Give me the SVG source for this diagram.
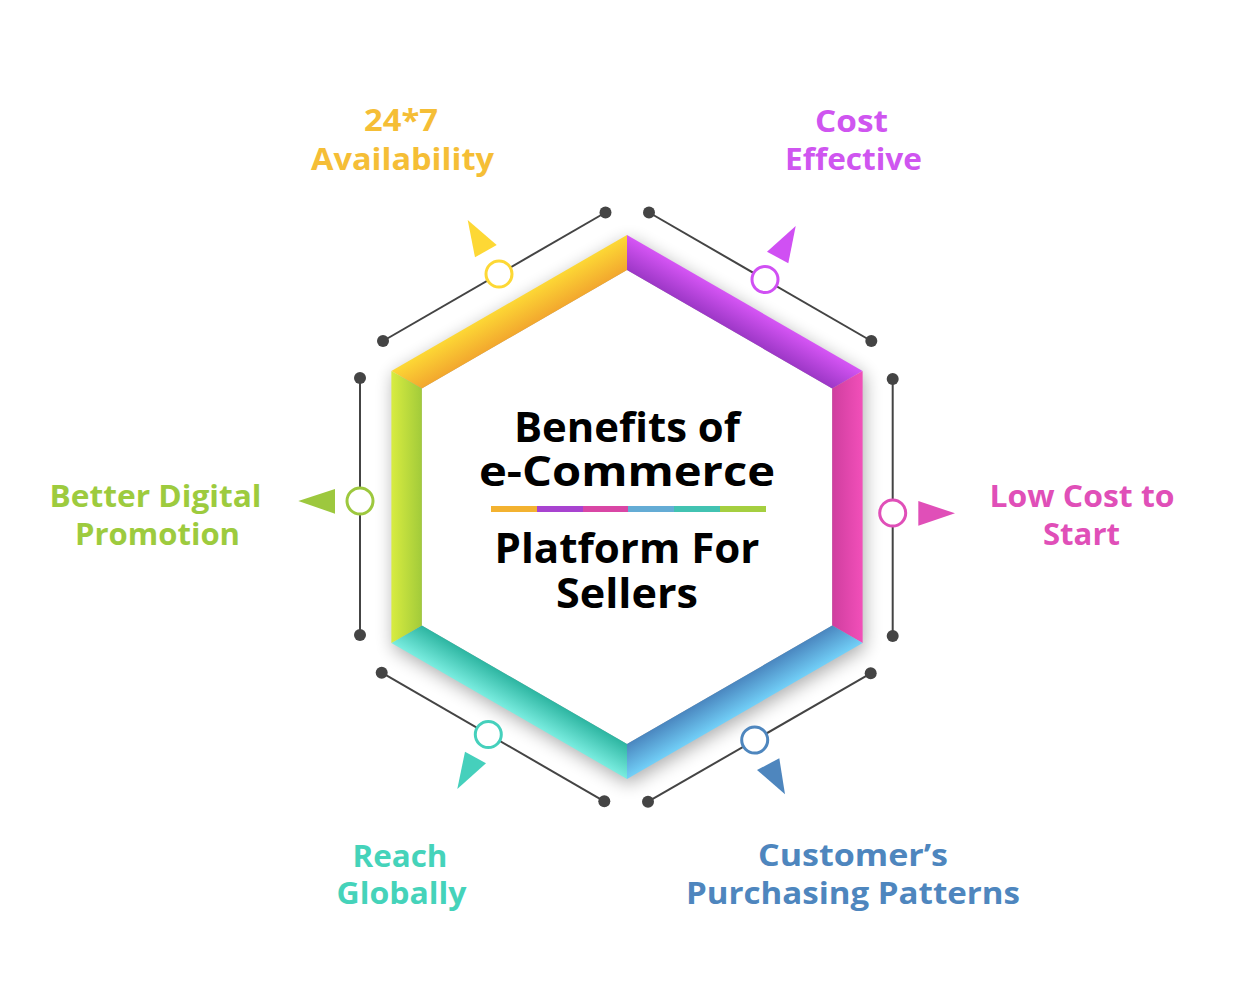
<svg xmlns="http://www.w3.org/2000/svg" width="1254" height="991" viewBox="0 0 1254 991">
<style>
.lbl{font-family:"Open Sans","Liberation Sans",sans-serif;font-weight:700;font-size:31px;text-anchor:middle}
.ttl{font-family:"Open Sans","Liberation Sans",sans-serif;font-weight:700;font-size:41px;text-anchor:middle;fill:#000}
.ln{stroke:#444;stroke-width:2;fill:none}
.dot{fill:#444}
.ring{fill:#fff;stroke-width:3}
</style>
<defs>
<filter id="sh" x="-20%" y="-20%" width="140%" height="140%">
<feGaussianBlur stdDeviation="9"/>
</filter>
<linearGradient id="gTL" gradientUnits="userSpaceOnUse" x1="509.2" y1="303" x2="524.4" y2="329.3"><stop offset="0" stop-color="#FDD835"/><stop offset="1" stop-color="#F2A72E"/></linearGradient>
<linearGradient id="gTR" gradientUnits="userSpaceOnUse" x1="744.8" y1="303" x2="729.6" y2="329.3"><stop offset="0" stop-color="#D655F5"/><stop offset="1" stop-color="#9C37C6"/></linearGradient>
<linearGradient id="gR" gradientUnits="userSpaceOnUse" x1="862.6" y1="507" x2="832.2" y2="507"><stop offset="0" stop-color="#F24FB9"/><stop offset="1" stop-color="#CF3E9F"/></linearGradient>
<linearGradient id="gBR" gradientUnits="userSpaceOnUse" x1="744.8" y1="711" x2="729.6" y2="684.7"><stop offset="0" stop-color="#72D0F8"/><stop offset="1" stop-color="#4A86BF"/></linearGradient>
<linearGradient id="gBL" gradientUnits="userSpaceOnUse" x1="509.2" y1="711" x2="524.4" y2="684.7"><stop offset="0" stop-color="#7AEDE0"/><stop offset="1" stop-color="#2DB5A1"/></linearGradient>
<linearGradient id="gL" gradientUnits="userSpaceOnUse" x1="391.4" y1="507" x2="421.8" y2="507"><stop offset="0" stop-color="#D8EC40"/><stop offset="1" stop-color="#A2CB3A"/></linearGradient>
</defs>
<rect width="1254" height="991" fill="#fff"/>

<g id="hexagon">
<polygon points="627,235 862.6,371 862.6,643 627,779 391.4,643 391.4,371" fill="#000" opacity="0.32" filter="url(#sh)" transform="translate(2,5)"/>
<polygon points="627,270 832.2,388.5 832.2,625.5 627,744 421.8,625.5 421.8,388.5" fill="#fff"/>
<polygon points="391.4,371 627,235 627,270 421.8,388.5" fill="url(#gTL)"/>
<polygon points="627,235 862.6,371 832.2,388.5 627,270" fill="url(#gTR)"/>
<polygon points="862.6,371 862.6,643 832.2,625.5 832.2,388.5" fill="url(#gR)"/>
<polygon points="862.6,643 627,779 627,744 832.2,625.5" fill="url(#gBR)"/>
<polygon points="627,779 391.4,643 421.8,625.5 627,744" fill="url(#gBL)"/>
<polygon points="391.4,643 391.4,371 421.8,388.5 421.8,625.5" fill="url(#gL)"/>
</g>

<g id="title">
<text class="ttl" x="627" y="442" textLength="226" lengthAdjust="spacingAndGlyphs">Benefits of</text>
<text class="ttl" x="627" y="486" textLength="296" lengthAdjust="spacingAndGlyphs">e-Commerce</text>
<rect x="491" y="506" width="46" height="6" fill="#F3B230"/>
<rect x="537" y="506" width="46" height="6" fill="#A843D0"/>
<rect x="583" y="506" width="45" height="6" fill="#D946A5"/>
<rect x="628" y="506" width="46" height="6" fill="#64ACD5"/>
<rect x="674" y="506" width="46" height="6" fill="#42C3B2"/>
<rect x="720" y="506" width="46" height="6" fill="#A5CF40"/>
<text class="ttl" x="627" y="563" textLength="265" lengthAdjust="spacingAndGlyphs">Platform For</text>
<text class="ttl" x="627" y="608" textLength="142" lengthAdjust="spacingAndGlyphs">Sellers</text>
</g>

<g id="connectors">
<line class="ln" x1="383" y1="341" x2="605.5" y2="212.5"/>
<line class="ln" x1="649" y1="212.5" x2="871.3" y2="341"/>
<line class="ln" x1="892.7" y1="379" x2="892.7" y2="636"/>
<line class="ln" x1="360" y1="378" x2="360" y2="635"/>
<line class="ln" x1="381.7" y1="672.7" x2="604.3" y2="801.3"/>
<line class="ln" x1="870.7" y1="673.3" x2="648" y2="801.7"/>
<circle class="dot" cx="383" cy="341" r="6"/><circle class="dot" cx="605.5" cy="212.5" r="6"/>
<circle class="dot" cx="649" cy="212.5" r="6"/><circle class="dot" cx="871.3" cy="341" r="6"/>
<circle class="dot" cx="892.7" cy="379" r="6"/><circle class="dot" cx="892.7" cy="636" r="6"/>
<circle class="dot" cx="360" cy="378" r="6"/><circle class="dot" cx="360" cy="635" r="6"/>
<circle class="dot" cx="381.7" cy="672.7" r="6"/><circle class="dot" cx="604.3" cy="801.3" r="6"/>
<circle class="dot" cx="870.7" cy="673.3" r="6"/><circle class="dot" cx="648" cy="801.7" r="6"/>
</g>

<g id="availability">
<circle class="ring" cx="499" cy="274" r="13" stroke="#FDD835"/>
<polygon points="467.7,220 496.7,245 475,257.3" fill="#FDD835"/>
<text class="lbl" fill="#F5BE36" x="401" y="131" textLength="74" lengthAdjust="spacingAndGlyphs">24*7</text>
<text class="lbl" fill="#F5BE36" x="402.5" y="170" textLength="183" lengthAdjust="spacingAndGlyphs">Availability</text>
</g>

<g id="cost-effective">
<circle class="ring" cx="765" cy="279.5" r="13" stroke="#D050F3"/>
<polygon points="795.7,226 767,251.7 788.3,263.3" fill="#D050F3"/>
<text class="lbl" fill="#CF55F0" x="851.5" y="132" textLength="73" lengthAdjust="spacingAndGlyphs">Cost</text>
<text class="lbl" fill="#CF55F0" x="853.5" y="170" textLength="137" lengthAdjust="spacingAndGlyphs">Effective</text>
</g>

<g id="low-cost">
<circle class="ring" cx="892.7" cy="513" r="13" stroke="#E04FB8"/>
<polygon points="918.3,501 955,513.3 918.3,525.7" fill="#E04FB8"/>
<text class="lbl" fill="#E04FB8" x="1082" y="507" textLength="185" lengthAdjust="spacingAndGlyphs">Low Cost to</text>
<text class="lbl" fill="#E04FB8" x="1081.5" y="545" textLength="77" lengthAdjust="spacingAndGlyphs">Start</text>
</g>

<g id="customer-patterns">
<circle class="ring" cx="754.7" cy="740" r="13" stroke="#4E86BE"/>
<polygon points="757,770 779.3,758.3 785,794.3" fill="#4E86BE"/>
<text class="lbl" fill="#4E86BE" x="853" y="866" textLength="190" lengthAdjust="spacingAndGlyphs">Customer’s</text>
<text class="lbl" fill="#4E86BE" x="853" y="904" textLength="334" lengthAdjust="spacingAndGlyphs">Purchasing Patterns</text>
</g>

<g id="reach-globally">
<circle class="ring" cx="488.3" cy="734.5" r="13" stroke="#45D0BC"/>
<polygon points="486,763.3 457.3,789 465,751.7" fill="#45D0BC"/>
<text class="lbl" fill="#45D3BA" x="400" y="866.5" textLength="95" lengthAdjust="spacingAndGlyphs">Reach</text>
<text class="lbl" fill="#45D3BA" x="401.5" y="904" textLength="130" lengthAdjust="spacingAndGlyphs">Globally</text>
</g>

<g id="digital-promotion">
<circle class="ring" cx="360" cy="501" r="13" stroke="#9DC83E"/>
<polygon points="298.3,501 335,489 335,513.7" fill="#9DC83E"/>
<text class="lbl" fill="#9DCB3E" x="155.5" y="507" textLength="212" lengthAdjust="spacingAndGlyphs">Better Digital</text>
<text class="lbl" fill="#9DCB3E" x="157.5" y="545" textLength="165" lengthAdjust="spacingAndGlyphs">Promotion</text>
</g>
</svg>
